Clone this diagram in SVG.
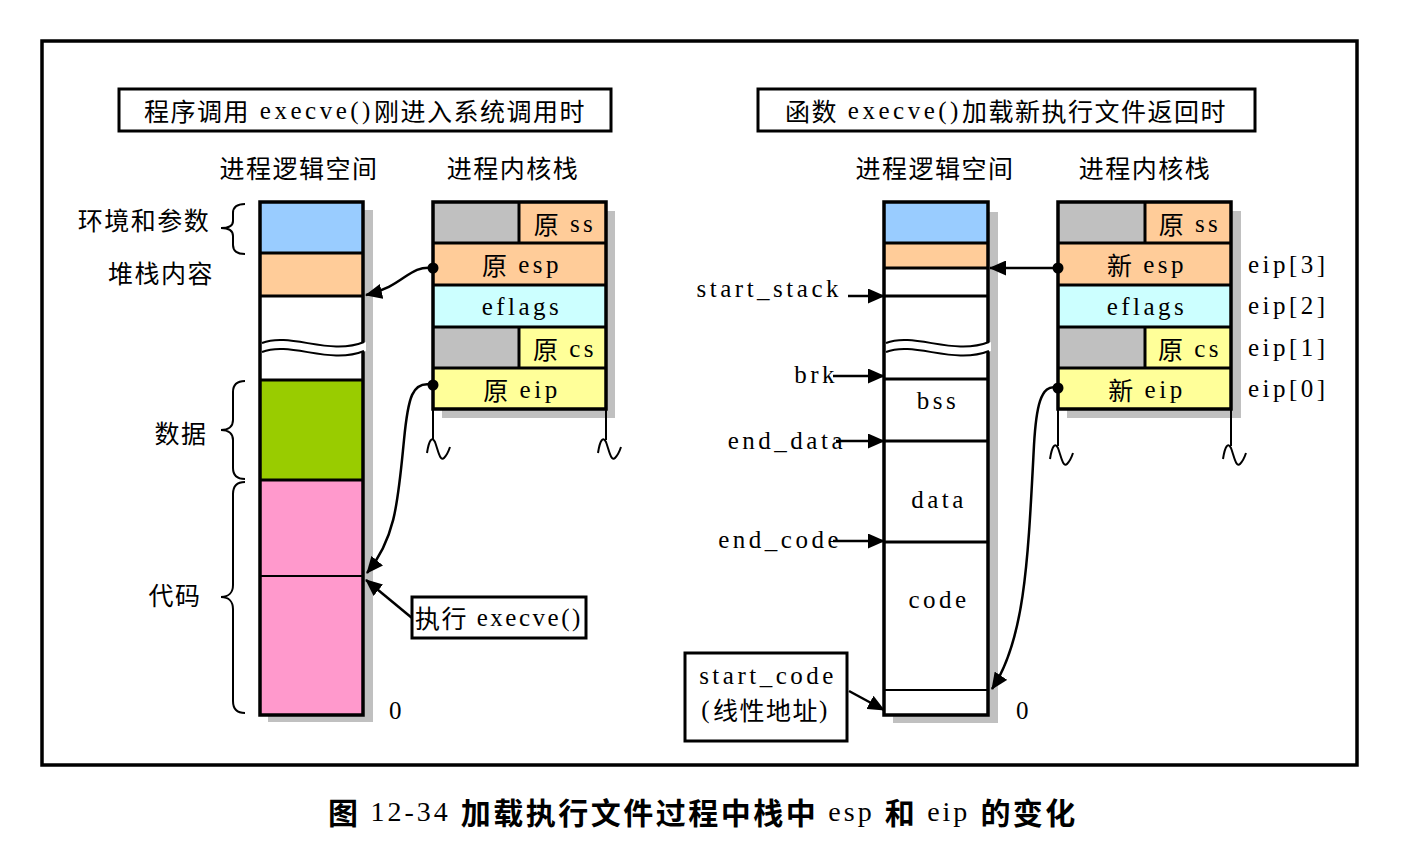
<svg xmlns="http://www.w3.org/2000/svg" width="1402" height="850" viewBox="0 0 1402 850">
<style>
.cjk{font-family:"Noto Sans CJK SC","Liberation Serif",sans-serif;font-size:25px;letter-spacing:1.5px;fill:#000}
.lat{font-family:"Liberation Serif",serif;font-size:25px;letter-spacing:3.5px;fill:#000}
.box{fill:none;stroke:#000;stroke-width:3}
.col{stroke:#000;stroke-width:3.5}
.div{stroke:#000;stroke-width:3}
.thin{stroke:#000;stroke-width:2}
.shadow{fill:#C0C0C0}
.brace{fill:none;stroke:#000;stroke-width:2}
.wire{fill:none;stroke:#000;stroke-width:2.5}
.sq{fill:none;stroke:#000;stroke-width:2}
.cap{font-family:"Liberation Serif",serif;font-weight:normal;font-size:28px;letter-spacing:3px}
</style>
<defs>
<marker id="ah" viewBox="0 0 17 15" refX="16" refY="7.5" markerWidth="17" markerHeight="15" markerUnits="userSpaceOnUse" orient="auto">
<path d="M0,0 L17,7.5 L0,15 Z" fill="#000"/>
</marker>
</defs>
<rect x="0" y="0" width="1402" height="850" fill="#fff"/>
<rect x="42" y="41" width="1315" height="724" fill="none" stroke="#000" stroke-width="3.5"/>

<g id="title-left">
<rect x="119" y="89" width="492" height="42" class="box"/>
<text x="365" y="110" text-anchor="middle" dominant-baseline="central" class="cjk">程序调用<tspan class="lat"> execve()</tspan>刚进入系统调用时</text>
</g>
<g id="title-right">
<rect x="758" y="89" width="497" height="42" class="box"/>
<text x="1006" y="110" text-anchor="middle" dominant-baseline="central" class="cjk">函数<tspan class="lat"> execve()</tspan>加载新执行文件返回时</text>
</g>

<g id="headers">
<text x="299" y="167" text-anchor="middle" dominant-baseline="central" class="cjk">进程逻辑空间</text>
<text x="513" y="167" text-anchor="middle" dominant-baseline="central" class="cjk">进程内核栈</text>
<text x="935" y="167" text-anchor="middle" dominant-baseline="central" class="cjk">进程逻辑空间</text>
<text x="1145" y="167" text-anchor="middle" dominant-baseline="central" class="cjk">进程内核栈</text>
</g>

<!-- Left logical space -->
<g id="left-space">
<rect x="268" y="210" width="105" height="512" class="shadow"/>
<rect x="260" y="202" width="103" height="51" fill="#99CCFF"/>
<rect x="260" y="253" width="103" height="43" fill="#FFCC99"/>
<rect x="260" y="296" width="103" height="84" fill="#fff"/>
<rect x="260" y="380" width="103" height="100" fill="#99CC00"/>
<rect x="260" y="480" width="103" height="235" fill="#FF99CC"/>
<line x1="260" y1="253" x2="363" y2="253" class="div"/>
<line x1="260" y1="296" x2="363" y2="296" class="div"/>
<line x1="260" y1="380" x2="363" y2="380" class="div"/>
<line x1="260" y1="480" x2="363" y2="480" class="div"/>
<line x1="260" y1="576" x2="363" y2="576" class="thin"/>
<rect x="260" y="202" width="103" height="513" fill="none" class="col"/>
<path d="M262,343 C290,332 330,356 366,342 L366,351 C330,365 290,341 262,352 Z" fill="#fff"/>
<path d="M262,343 C290,332 330,356 364,342" class="sq"/>
<path d="M262,352 C290,341 330,365 364,351" class="sq"/>
<text x="397" y="710" text-anchor="middle" dominant-baseline="central" class="lat">0</text>
</g>

<g id="left-labels">
<text x="144" y="219" text-anchor="middle" dominant-baseline="central" class="cjk">环境和参数</text>
<text x="161" y="272" text-anchor="middle" dominant-baseline="central" class="cjk">堆栈内容</text>
<text x="181" y="432" text-anchor="middle" dominant-baseline="central" class="cjk">数据</text>
<text x="175" y="594" text-anchor="middle" dominant-baseline="central" class="cjk">代码</text>
<path class="brace" d="M245,204 C237,204 233,207 233,213 L233,221 C233,225 229,228 221,228 C229,228 233,231 233,236 L233,245 C233,251 237,254 245,254"/>
<path class="brace" d="M245,381 C237,381 233,385 233,392 L233,420 C233,426 229,430 221,430 C229,430 233,434 233,440 L233,468 C233,475 237,479 245,479"/>
<path class="brace" d="M245,482 C237,482 233,486 233,494 L233,585 C233,592 229,597 221,597 C229,597 233,602 233,609 L233,701 C233,709 237,713 245,713"/>
</g>

<!-- Left kernel stack -->
<g id="left-stack">
<rect x="442" y="211" width="173" height="207" class="shadow"/>
<rect x="433" y="202" width="86" height="41" fill="#C0C0C0"/>
<rect x="519" y="202" width="87" height="41" fill="#FFCC99"/>
<rect x="433" y="243" width="173" height="42" fill="#FFCC99"/>
<rect x="433" y="285" width="173" height="42" fill="#CCFFFF"/>
<rect x="433" y="327" width="86" height="41" fill="#C0C0C0"/>
<rect x="519" y="327" width="87" height="41" fill="#FFFF99"/>
<rect x="433" y="368" width="173" height="41" fill="#FFFF99"/>
<line x1="519" y1="202" x2="519" y2="243" class="div"/>
<line x1="519" y1="327" x2="519" y2="368" class="div"/>
<line x1="433" y1="243" x2="606" y2="243" class="div"/>
<line x1="433" y1="285" x2="606" y2="285" class="div"/>
<line x1="433" y1="327" x2="606" y2="327" class="div"/>
<line x1="433" y1="368" x2="606" y2="368" class="div"/>
<rect x="433" y="202" width="173" height="207" fill="none" class="col"/>
<text x="565" y="223" text-anchor="middle" dominant-baseline="central" class="cjk">原<tspan class="lat"> ss</tspan></text>
<text x="522" y="264" text-anchor="middle" dominant-baseline="central" class="cjk">原<tspan class="lat"> esp</tspan></text>
<text x="522" y="306" text-anchor="middle" dominant-baseline="central" class="lat">eflags</text>
<text x="565" y="348" text-anchor="middle" dominant-baseline="central" class="cjk">原<tspan class="lat"> cs</tspan></text>
<text x="522" y="389" text-anchor="middle" dominant-baseline="central" class="cjk">原<tspan class="lat"> eip</tspan></text>
<line x1="433" y1="409" x2="433" y2="440" class="sq"/>
<line x1="606" y1="409" x2="606" y2="440" class="sq"/>
<path class="sq" d="M427,453 C429,440 432,436 435,442 C438,450 440,462 444,458 C447,455 449,450 450,447"/>
<path class="sq" d="M598,453 C600,440 603,436 606,442 C609,450 611,462 615,458 C618,455 620,450 621,447"/>
</g>

<g id="execve-box">
<rect x="412" y="597" width="174" height="41" class="box"/>
<text x="415" y="617" dominant-baseline="central" class="cjk">执行<tspan class="lat" style="letter-spacing:2.5px"> execve()</tspan></text>
</g>

<!-- Right logical space -->
<g id="right-space">
<rect x="893" y="212" width="105" height="511" class="shadow"/>
<rect x="884" y="202" width="104" height="41" fill="#99CCFF"/>
<rect x="884" y="243" width="104" height="25" fill="#FFCC99"/>
<rect x="884" y="268" width="104" height="447" fill="#fff"/>
<line x1="884" y1="243" x2="988" y2="243" class="div"/>
<line x1="884" y1="268" x2="988" y2="268" class="div"/>
<line x1="884" y1="296" x2="988" y2="296" class="div"/>
<line x1="884" y1="379" x2="988" y2="379" class="div"/>
<line x1="884" y1="441" x2="988" y2="441" class="div"/>
<line x1="884" y1="542" x2="988" y2="542" class="div"/>
<line x1="884" y1="690" x2="988" y2="690" class="thin"/>
<rect x="884" y="202" width="104" height="513" fill="none" class="col"/>
<path d="M886,343 C914,332 954,356 991,342 L991,351 C954,365 914,341 886,352 Z" fill="#fff"/>
<path d="M886,343 C914,332 954,356 989,342" class="sq"/>
<path d="M886,352 C914,341 954,365 989,351" class="sq"/>
<text x="938" y="400" text-anchor="middle" dominant-baseline="central" class="lat">bss</text>
<text x="939" y="499" text-anchor="middle" dominant-baseline="central" class="lat">data</text>
<text x="939" y="599" text-anchor="middle" dominant-baseline="central" class="lat">code</text>
<text x="1024" y="710" text-anchor="middle" dominant-baseline="central" class="lat">0</text>
</g>

<g id="right-labels">
<text x="842" y="288" text-anchor="end" dominant-baseline="central" class="lat">start_stack</text>
<text x="838" y="374" text-anchor="end" dominant-baseline="central" class="lat">brk</text>
<text x="846" y="440" text-anchor="end" dominant-baseline="central" class="lat">end_data</text>
<text x="842" y="539" text-anchor="end" dominant-baseline="central" class="lat">end_code</text>
</g>

<g id="start-code-box">
<rect x="685" y="653" width="162" height="88" class="box"/>
<text x="768" y="675" text-anchor="middle" dominant-baseline="central" class="lat">start_code</text>
<text x="766" y="709" text-anchor="middle" dominant-baseline="central" class="cjk"><tspan class="lat">(</tspan>线性地址<tspan class="lat">)</tspan></text>
</g>

<!-- Right kernel stack -->
<g id="right-stack">
<rect x="1067" y="211" width="174" height="207" class="shadow"/>
<rect x="1058" y="202" width="87" height="41" fill="#C0C0C0"/>
<rect x="1145" y="202" width="86" height="41" fill="#FFCC99"/>
<rect x="1058" y="243" width="173" height="42" fill="#FFCC99"/>
<rect x="1058" y="285" width="173" height="42" fill="#CCFFFF"/>
<rect x="1058" y="327" width="87" height="41" fill="#C0C0C0"/>
<rect x="1145" y="327" width="86" height="41" fill="#FFFF99"/>
<rect x="1058" y="368" width="173" height="41" fill="#FFFF99"/>
<line x1="1145" y1="202" x2="1145" y2="243" class="div"/>
<line x1="1145" y1="327" x2="1145" y2="368" class="div"/>
<line x1="1058" y1="243" x2="1231" y2="243" class="div"/>
<line x1="1058" y1="285" x2="1231" y2="285" class="div"/>
<line x1="1058" y1="327" x2="1231" y2="327" class="div"/>
<line x1="1058" y1="368" x2="1231" y2="368" class="div"/>
<rect x="1058" y="202" width="173" height="207" fill="none" class="col"/>
<text x="1190" y="223" text-anchor="middle" dominant-baseline="central" class="cjk">原<tspan class="lat"> ss</tspan></text>
<text x="1147" y="264" text-anchor="middle" dominant-baseline="central" class="cjk">新<tspan class="lat"> esp</tspan></text>
<text x="1147" y="306" text-anchor="middle" dominant-baseline="central" class="lat">eflags</text>
<text x="1190" y="348" text-anchor="middle" dominant-baseline="central" class="cjk">原<tspan class="lat"> cs</tspan></text>
<text x="1147" y="389" text-anchor="middle" dominant-baseline="central" class="cjk">新<tspan class="lat"> eip</tspan></text>
<line x1="1058" y1="409" x2="1058" y2="446" class="sq"/>
<line x1="1231" y1="409" x2="1231" y2="446" class="sq"/>
<path class="sq" d="M1050,459 C1052,446 1055,442 1058,448 C1061,456 1063,468 1067,464 C1070,461 1072,456 1073,453"/>
<path class="sq" d="M1223,459 C1225,446 1228,442 1231,448 C1234,456 1236,468 1240,464 C1243,461 1245,456 1246,453"/>
<text x="1248" y="264" dominant-baseline="central" class="lat">eip[3]</text>
<text x="1248" y="305" dominant-baseline="central" class="lat">eip[2]</text>
<text x="1248" y="347" dominant-baseline="central" class="lat">eip[1]</text>
<text x="1248" y="388" dominant-baseline="central" class="lat">eip[0]</text>
</g>

<g id="connectors">
<path class="wire" d="M433,268 C408,265 405,286 366,295" marker-end="url(#ah)"/>
<circle cx="433" cy="268" r="5.5" fill="#000"/>
<path class="wire" d="M433,385 C412,380 408,398 404,440 C398,500 396,538 367,573" marker-end="url(#ah)"/>
<circle cx="433" cy="385" r="5.5" fill="#000"/>
<line x1="412" y1="618" x2="366" y2="580" class="wire" marker-end="url(#ah)"/>
<line x1="1058" y1="268" x2="990" y2="268" class="wire" marker-end="url(#ah)"/>
<circle cx="1058" cy="268" r="5.5" fill="#000"/>
<path class="wire" d="M1058,388 C1040,382 1036,410 1034,445 C1028,560 1025,640 992,689" marker-end="url(#ah)"/>
<circle cx="1058" cy="388" r="5.5" fill="#000"/>
<line x1="848" y1="296" x2="884" y2="296" class="wire" marker-end="url(#ah)"/>
<line x1="833" y1="376" x2="884" y2="376" class="wire" marker-end="url(#ah)"/>
<line x1="836" y1="441" x2="884" y2="441" class="wire" marker-end="url(#ah)"/>
<line x1="833" y1="541" x2="884" y2="541" class="wire" marker-end="url(#ah)"/>
<line x1="849" y1="691" x2="884" y2="710" class="wire" marker-end="url(#ah)"/>
</g>

<g id="caption">
<text x="328" y="811" dominant-baseline="central" font-family="Noto Sans CJK SC, sans-serif" font-size="30" font-weight="bold" letter-spacing="2.5">图<tspan class="cap"> 12-34 </tspan>加载执行文件过程中栈中<tspan class="cap"> esp </tspan>和<tspan class="cap"> eip </tspan>的变化</text>
</g>
</svg>
